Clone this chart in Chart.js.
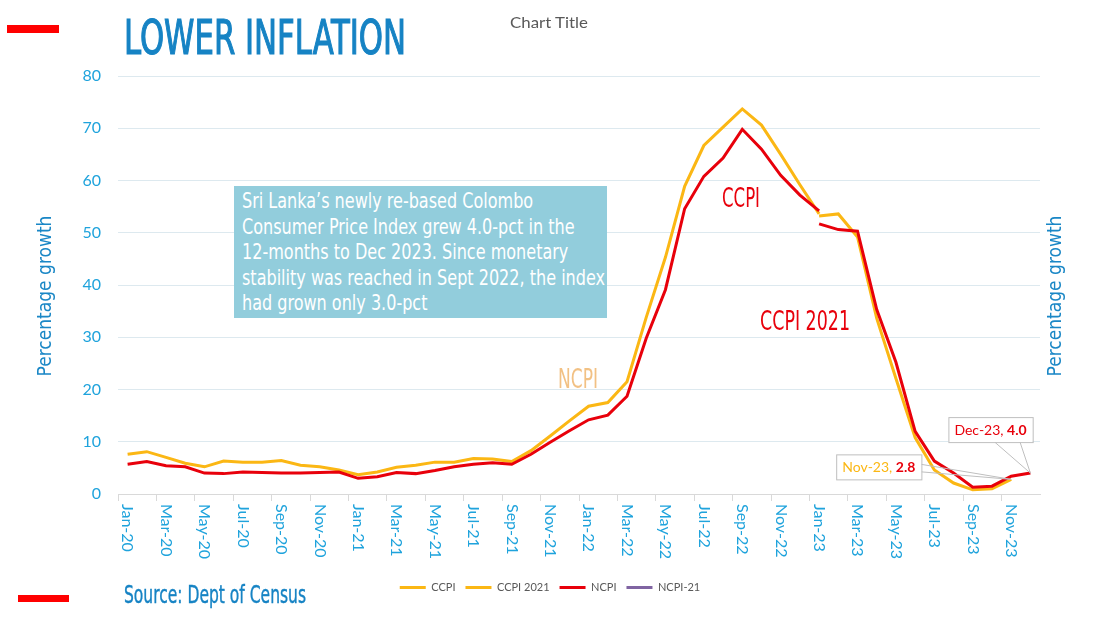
<!DOCTYPE html>
<html>
<head>
<meta charset="utf-8">
<title>Lower inflation</title>
<script src="https://cdn.jsdelivr.net/npm/chart.js@4.4.1/dist/chart.umd.min.js"></script>
<style>
  body { margin: 0; background: #fff; }
  #wrap { position: relative; width: 1100px; height: 620px; overflow: hidden; }
  #chart { position: absolute; left: 0; top: 0; }
  .txt { position: absolute; white-space: nowrap; transform-origin: 0 0; line-height: 1;
         font-family: "DejaVu Sans Condensed", "Liberation Sans Narrow", "DejaVu Sans", sans-serif; }
  .bar { position: absolute; background: #ff0000; }
  #title { left: 124px; top: 13px; font-size: 48px; color: #1683c4; -webkit-text-stroke: 1.2px #1683c4; }
  #subTitle { left: 510px; top: 14px; font-size: 16px; color: #595959; font-family: Lato, "Open Sans", sans-serif; }
  #note { position: absolute; left: 234px; top: 186px; width: 373px; height: 132px; background: #92cddc; overflow: hidden; }
  #note .inner { position: absolute; left: 8px; top: 2px; display: inline-block; white-space: nowrap;
                 transform-origin: 0 0; color: #fff; font-size: 22px; line-height: 25.5px;
                 font-family: "DejaVu Sans Condensed", "Liberation Sans Narrow", "DejaVu Sans", sans-serif; }
  .tag { font-size: 27px; }
  #source { left: 124px; top: 582px; font-size: 25px; color: #1683c4; -webkit-text-stroke: 0.4px #1683c4; }
</style>
</head>
<body>
<div id="wrap">
  <canvas id="chart" width="1100" height="620"></canvas>
  <div class="bar" style="left:7px; top:25px; width:52px; height:8px;"></div>
  <div class="bar" style="left:18px; top:595px; width:51px; height:7px;"></div>
  <div id="title" class="txt" data-w="282">LOWER INFLATION</div>
  <div id="subTitle" class="txt" data-w="78">Chart Title</div>
  <div id="note"><div class="inner" data-w="363">Sri Lanka’s newly re-based Colombo<br>Consumer Price Index grew 4.0-pct in the<br>12-months to Dec 2023. Since monetary<br>stability was reached in Sept 2022, the index<br>had grown only 3.0-pct</div></div>
  <div class="txt tag" data-w="38" style="left:722px; top:184px; color:#e8000b;">CCPI</div>
  <div class="txt tag" data-w="90" style="left:760px; top:307px; color:#e8000b;">CCPI 2021</div>
  <div class="txt tag" data-w="40" style="left:558px; top:365px; color:#f2c184;">NCPI</div>
  <div id="source" class="txt" data-w="182">Source: Dept of Census</div>
</div>
<script>
// months on the x axis
const months = [
  'Jan-20','Feb-20','Mar-20','Apr-20','May-20','Jun-20','Jul-20','Aug-20','Sep-20','Oct-20','Nov-20','Dec-20',
  'Jan-21','Feb-21','Mar-21','Apr-21','May-21','Jun-21','Jul-21','Aug-21','Sep-21','Oct-21','Nov-21','Dec-21',
  'Jan-22','Feb-22','Mar-22','Apr-22','May-22','Jun-22','Jul-22','Aug-22','Sep-22','Oct-22','Nov-22','Dec-22',
  'Jan-23','Feb-23','Mar-23','Apr-23','May-23','Jun-23','Jul-23','Aug-23','Sep-23','Oct-23','Nov-23','Dec-23'
];

// gold line, old base, Jan-20 .. Jan-23
const ccpi = [
  7.6, 8.1, 7.0, 5.9, 5.2, 6.3, 6.1, 6.1, 6.4, 5.5, 5.2, 4.6,
  3.7, 4.2, 5.1, 5.5, 6.1, 6.1, 6.8, 6.7, 6.2, 8.3, 11.1, 14.0,
  16.8, 17.5, 21.5, 33.8, 45.3, 58.9, 66.7, 70.2, 73.7, 70.6, 65.0, 59.2,
  53.6
];
// gold line, 2021 base, Jan-23 .. Nov-23
const ccpi2021 = [53.2, 53.6, 49.2, 33.6, 22.1, 10.8, 4.6, 2.1, 0.8, 1.0, 2.8];

// red line, old base, Jan-20 .. Jan-23
const ncpi = [
  5.7, 6.2, 5.4, 5.2, 4.0, 3.9, 4.2, 4.1, 4.0, 4.0, 4.1, 4.2,
  3.0, 3.3, 4.1, 3.9, 4.5, 5.2, 5.7, 6.0, 5.7, 7.6, 9.9, 12.1,
  14.2, 15.1, 18.7, 29.8, 39.1, 54.6, 60.8, 64.3, 69.8, 66.0, 61.0, 57.2,
  54.2
];
// red line, 2021 base, Jan-23 .. Dec-23
const ncpiRebased = [51.7, 50.6, 50.3, 35.3, 25.2, 12.0, 6.3, 4.0, 1.3, 1.5, 3.4, 4.0];

const GOLD = '#fbb714';
const RED = '#e8000b';
const PURPLE = '#8064a2';
const AXIS_TITLE = 'Percentage growth';

// place a series on the month axis starting at a given month
function alignTo(startMonth, values) {
  const out = months.map(() => null);
  const s = months.indexOf(startMonth);
  values.forEach((v, i) => { out[s + i] = v; });
  return out;
}

// callouts: dataset index, month, and colour of the month part
const callouts = [
  { ds: 3, month: 'Dec-23', nameColor: RED, dx: -82, dy: -56 },
  { ds: 1, month: 'Nov-23', nameColor: GOLD, dx: -175, dy: -25 }
];

const calloutPlugin = {
  id: 'callouts',
  afterDatasetsDraw(chart) {
    const ctx = chart.ctx;
    ctx.save();
    callouts.forEach(c => {
      const idx = months.indexOf(c.month);
      const pt = chart.getDatasetMeta(c.ds).data[idx];
      const val = chart.data.datasets[c.ds].data[idx];
      const name = c.month + ', ';
      const num = val.toFixed(1);
      ctx.font = '14px Lato, "Open Sans", sans-serif';
      const w1 = ctx.measureText(name).width;
      ctx.font = 'bold 14px Lato, "Open Sans", sans-serif';
      const w2 = ctx.measureText(num).width;
      const bx = pt.x + c.dx, by = pt.y + c.dy;
      const bw = w1 + w2 + 12, bh = 25;
      // leader lines
      ctx.strokeStyle = '#bfbfbf';
      ctx.lineWidth = 1;
      ctx.beginPath();
      if (c.dy < -30) {
        ctx.moveTo(bx + bw * 0.55, by + bh); ctx.lineTo(pt.x, pt.y);
        ctx.moveTo(bx + bw * 0.85, by + bh); ctx.lineTo(pt.x, pt.y);
      } else {
        ctx.moveTo(bx + bw, by + bh * 0.4); ctx.lineTo(pt.x, pt.y);
        ctx.moveTo(bx + bw, by + bh * 0.7); ctx.lineTo(pt.x, pt.y);
      }
      ctx.stroke();
      ctx.fillStyle = '#fff';
      ctx.fillRect(bx, by, bw, bh);
      ctx.strokeRect(bx + 0.5, by + 0.5, bw, bh);
      ctx.textBaseline = 'middle';
      ctx.textAlign = 'left';
      ctx.font = '14px Lato, "Open Sans", sans-serif';
      ctx.fillStyle = c.nameColor;
      ctx.fillText(name, bx + 6, by + bh / 2 + 1);
      ctx.font = 'bold 14px Lato, "Open Sans", sans-serif';
      ctx.fillStyle = RED;
      ctx.fillText(num, bx + 6 + w1, by + bh / 2 + 1);
    });
    ctx.restore();
  }
};

// month labels written downwards, every second month
const monthLabelPlugin = {
  id: 'monthLabels',
  afterDraw(chart) {
    const xs = chart.scales.x;
    const ctx = chart.ctx;
    ctx.save();
    ctx.fillStyle = '#1fa3dc';
    ctx.font = '16px Lato, "Open Sans", sans-serif';
    ctx.textAlign = 'left';
    ctx.textBaseline = 'middle';
    months.forEach((m, i) => {
      if (i % 2) return;
      ctx.save();
      ctx.translate(xs.getPixelForValue(i), chart.chartArea.bottom + 10);
      ctx.rotate(Math.PI / 2);
      ctx.fillText(m, 0, 0);
      ctx.restore();
    });
    ctx.restore();
  }
};

// both axis titles read upwards, as in the original
const axisTitlePlugin = {
  id: 'axisTitles',
  afterDraw(chart) {
    const ctx = chart.ctx;
    const midY = (chart.chartArea.top + chart.chartArea.bottom) / 2 + 11;
    ctx.save();
    ctx.fillStyle = '#1a87c6';
    ctx.font = '19px "DejaVu Sans Condensed", "Liberation Sans Narrow", sans-serif';
    ctx.textAlign = 'center';
    ctx.textBaseline = 'middle';
    [chart.scales.y.left + 46, chart.scales.y2.left + 16].forEach(x => {
      ctx.save();
      ctx.translate(x, midY);
      ctx.rotate(-Math.PI / 2);
      ctx.fillText(AXIS_TITLE, 0, 0);
      ctx.restore();
    });
    ctx.restore();
  }
};

new Chart(document.getElementById('chart'), {
  type: 'line',
  data: {
    labels: months,
    datasets: [
      { label: 'CCPI', data: alignTo('Jan-20', ccpi), borderColor: GOLD, backgroundColor: GOLD, order: 2 },
      { label: 'CCPI 2021', data: alignTo('Jan-23', ccpi2021), borderColor: GOLD, backgroundColor: GOLD, order: 2 },
      { label: 'NCPI', data: alignTo('Jan-20', ncpi), borderColor: RED, backgroundColor: RED, order: 1 },
      { label: 'rebased', data: alignTo('Jan-23', ncpiRebased), borderColor: RED, backgroundColor: RED, order: 1 },
      { label: 'NCPI-21', data: [], borderColor: PURPLE, backgroundColor: PURPLE, order: 3 }
    ]
  },
  options: {
    responsive: false,
    animation: false,
    layout: { padding: { top: 76, left: 0, right: 0, bottom: 17 } },
    elements: {
      line: { borderWidth: 3, tension: 0 },
      point: { radius: 0, hoverRadius: 0 }
    },
    scales: {
      x: {
        offset: true,
        ticks: { display: false },
        grid: {
          offset: true,
          drawOnChartArea: false,
          drawTicks: true,
          tickLength: 7,
          color: c => (c.index % 2 === 0 ? '#d9d9d9' : 'rgba(0,0,0,0)')
        },
        border: { display: true, color: '#d9d9d9', width: 1 },
        afterFit: s => { s.height = 78; }
      },
      y: {
        min: 0, max: 80,
        ticks: { stepSize: 10, color: '#1fa3dc', padding: 17, font: { family: 'Lato, "Open Sans", sans-serif', size: 16 } },
        grid: { drawTicks: false, color: c => (c.tick && c.tick.value === 0 ? '#d9d9d9' : '#dde9ef') },
        border: { display: false },
        afterFit: s => { s.width = 118; }
      },
      y2: {
        position: 'right',
        min: 0, max: 80,
        ticks: { display: false },
        grid: { display: false },
        border: { display: false },
        afterFit: s => { s.width = 60; }
      }
    },
    plugins: {
      tooltip: { enabled: false },
      legend: {
        position: 'bottom',
        labels: {
          color: '#595959',
          font: { family: 'Lato, "Open Sans", sans-serif', size: 11 },
          boxWidth: 26,
          boxHeight: 3,
          padding: 10,
          filter: item => item.text !== 'rebased',
          sort: (a, b) => a.datasetIndex - b.datasetIndex,
          generateLabels: chart => Chart.defaults.plugins.legend.labels.generateLabels(chart)
            .map(l => Object.assign(l, { lineWidth: 0 }))
        }
      }
    }
  },
  plugins: [calloutPlugin, monthLabelPlugin, axisTitlePlugin]
});

// squeeze overlay texts to the condensed widths of the original
document.querySelectorAll('[data-w]').forEach(el => {
  const w = el.getBoundingClientRect().width;
  el.style.transform = 'scaleX(' + (+el.dataset.w / w) + ')';
});
</script>
</body>
</html>
